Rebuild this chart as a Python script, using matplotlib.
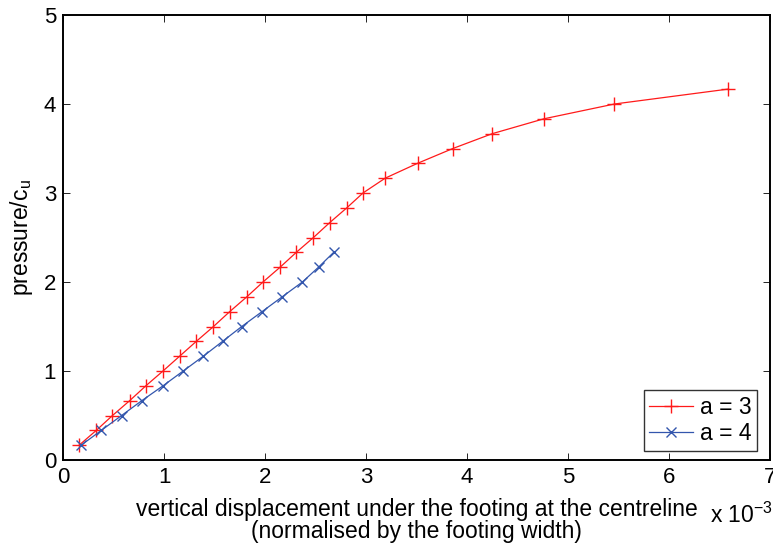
import numpy as np
import matplotlib
matplotlib.use('Agg')
import matplotlib.pyplot as plt

plt.rcParams['font.family'] = ['Liberation Sans', 'DejaVu Sans']

# displacement (x 1e-3) and pressure/c_u for each case
disp_a3 = [0.16, 0.33, 0.49, 0.66, 0.82, 0.99, 1.155, 1.32, 1.49, 1.65, 1.82, 1.98,
           2.15, 2.31, 2.48, 2.64, 2.81, 2.97, 3.19, 3.51, 3.86, 4.25, 4.76, 5.46, 6.58]
pres_a3 = [k / 6 for k in range(1, 26)]

disp_a4 = [0.18, 0.38, 0.58, 0.78, 0.99, 1.19, 1.39, 1.58, 1.77, 1.97, 2.17, 2.37,
           2.53, 2.68]
pres_a4 = [k / 6 for k in range(1, 15)]

fig = plt.figure(figsize=(7.73, 5.48), dpi=100)
ax = fig.add_axes([63 / 773, 88 / 548, 707 / 773, 445 / 548])

ax.plot(disp_a3, pres_a3, color='#ff1a1a', lw=0.9, marker='+', ms=10, mew=1.0, label='a = 3')
ax.plot(disp_a4, pres_a4, color='#3356ad', lw=0.9, marker='x', ms=7, mew=1.0, label='a = 4')

ax.set_xlim(0, 7)
ax.set_ylim(0, 5)
ax.set_xticks(range(0, 8))
ax.set_yticks(range(0, 6))
ax.tick_params(direction='in', length=5, width=0.6, top=True, right=True,
               labelsize=16, pad=5)
for s in ax.spines.values():
    s.set_linewidth(1.4)

ax.set_xlabel('vertical displacement under the footing at the centreline\n'
              '(normalised by the footing width)', fontsize=16.5, labelpad=7,
              linespacing=0.95)
ax.set_ylabel('pressure/c$_\\mathregular{u}$', fontsize=16.5, labelpad=6)
# exponent for the x axis, sitting just right of the label
fig.text(710 / 773, 25 / 548, 'x 10$^{\\mathregular{-3}}$', fontsize=16.5,
         ha='left', va='baseline')

leg = ax.legend(loc='lower right', bbox_to_anchor=(694 / 707, 9 / 445),
                fontsize=16.5, frameon=True, fancybox=False, edgecolor='black',
                handlelength=1.9, borderaxespad=0, handletextpad=0.3,
                labelspacing=0.15, borderpad=0.25)
leg.get_frame().set_linewidth(1.0)

fig.savefig('out.png', dpi=100)
